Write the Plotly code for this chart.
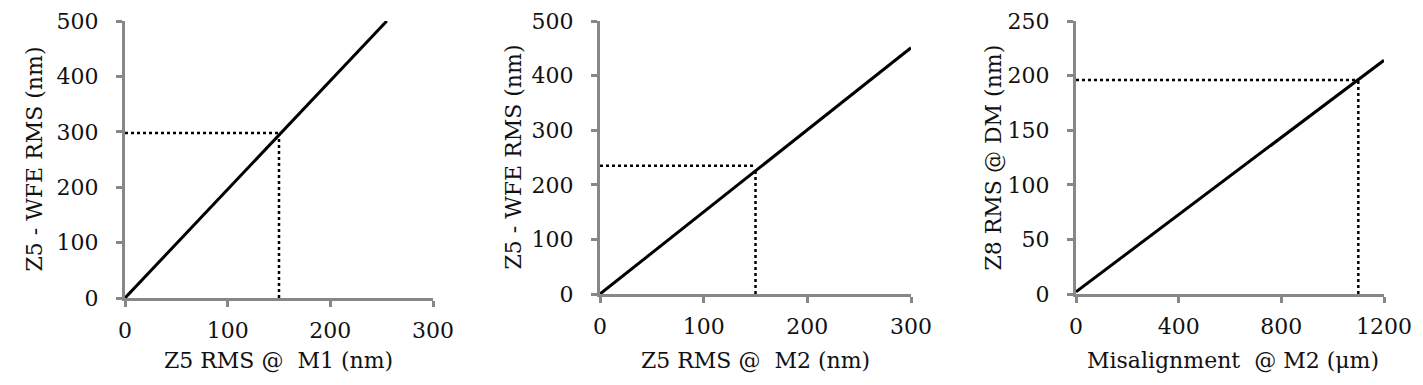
import plotly.graph_objects as go

# Panel 1: Z5 RMS @ M1 vs Z5 WFE RMS
p1_x = [0, 255]
p1_y = [0, 500]
p1_ref_x = 150
p1_ref_y = 298

# Panel 2: Z5 RMS @ M2 vs Z5 WFE RMS
p2_x = [0, 300]
p2_y = [0, 451]
p2_ref_x = 150
p2_ref_y = 235
p2_cross_y = 227

# Panel 3: Misalignment @ M2 vs Z8 RMS @ DM
p3_x = [0, 1200]
p3_y = [2, 214]
p3_ref_x = 1100
p3_ref_y = 196

x_titles = ["Z5 RMS @  M1 (nm)", "Z5 RMS @  M2 (nm)", "Misalignment  @ M2 (μm)"]
y_titles = ["Z5 - WFE RMS (nm)", "Z5 - WFE RMS (nm)", "Z8 RMS @ DM (nm)"]
x_ranges = [[0, 300], [0, 300], [0, 1200]]
y_ranges = [[0, 500], [0, 500], [0, 250]]
x_dticks = [100, 100, 400]
y_dticks = [100, 100, 50]

W, H = 1423, 385
FONT = "DejaVu Serif"
TXT = "#111111"
AX = "#878787"

fig = go.Figure()

series = [
    (p1_x, p1_y, p1_ref_x, p1_ref_y, p1_ref_y - 4),
    (p2_x, p2_y, p2_ref_x, p2_ref_y, p2_cross_y),
    (p3_x, p3_y, p3_ref_x, p3_ref_y, p3_ref_y),
]

for i, (xs, ys, rx, ry, cy) in enumerate(series):
    xa = "x" if i == 0 else f"x{i+1}"
    ya = "y" if i == 0 else f"y{i+1}"
    fig.add_trace(go.Scatter(x=[0, rx], y=[ry, ry], mode="lines",
                             line=dict(color="black", width=2.5, dash="dot"),
                             xaxis=xa, yaxis=ya, showlegend=False))
    fig.add_trace(go.Scatter(x=[rx, rx], y=[0, cy], mode="lines",
                             line=dict(color="black", width=2.5, dash="dot"),
                             xaxis=xa, yaxis=ya, showlegend=False))
    fig.add_trace(go.Scatter(x=xs, y=ys, mode="lines",
                             line=dict(color="black", width=3),
                             xaxis=xa, yaxis=ya, showlegend=False))

# pixel layout
x_px = [(125, 433), (600, 911), (1076, 1384)]
y_px = [(21, 298), (21, 294), (21, 294)]
x_title_cx = [278, 755, 1233]
x_title_cy = 360
y_title_cx = [34, 513, 993]

layout = dict(
    template="none",
    width=W, height=H,
    margin=dict(l=0, r=0, t=0, b=0),
    paper_bgcolor="white", plot_bgcolor="white",
    font=dict(family=FONT, color=TXT, size=22),
    showlegend=False,
)

annotations = []
for i in range(3):
    sx = "" if i == 0 else str(i + 1)
    x0, x1 = x_px[i]
    yt, yb = y_px[i]
    layout[f"xaxis{sx}"] = dict(
        domain=[x0 / W, x1 / W], anchor=f"y{sx}", range=x_ranges[i],
        dtick=x_dticks[i], tick0=0, showgrid=False, zeroline=False, automargin=False,
        showline=True, linecolor=AX, linewidth=3,
        ticks="outside", ticklen=6, tickwidth=3, tickcolor=AX,
        tickfont=dict(family=FONT, size=22, color=TXT),
        ticklabelstandoff=5,
    )
    layout[f"yaxis{sx}"] = dict(
        domain=[(H - yb) / H, (H - yt) / H], anchor=f"x{sx}", range=y_ranges[i],
        dtick=y_dticks[i], tick0=0, showgrid=False, zeroline=False, automargin=False,
        showline=True, linecolor=AX, linewidth=3,
        ticks="outside", ticklen=6, tickwidth=3, tickcolor=AX,
        tickfont=dict(family=FONT, size=22, color=TXT),
        ticklabelstandoff=13,
    )
    annotations.append(dict(
        text=x_titles[i], xref="paper", yref="paper",
        x=x_title_cx[i] / W, y=(H - x_title_cy) / H,
        xanchor="center", yanchor="middle", showarrow=False,
        font=dict(family=FONT, size=22, color=TXT)))
    annotations.append(dict(
        text=y_titles[i], xref="paper", yref="paper",
        x=y_title_cx[i] / W, y=(H - (yt + yb) / 2) / H, textangle=-90,
        xanchor="center", yanchor="middle", showarrow=False,
        font=dict(family=FONT, size=22, color=TXT)))

layout["annotations"] = annotations
fig.update_layout(**layout)
fig.write_html("out.html", config={"displayModeBar": False},
               post_script="document.body.style.margin='0';document.body.style.padding='0';")
